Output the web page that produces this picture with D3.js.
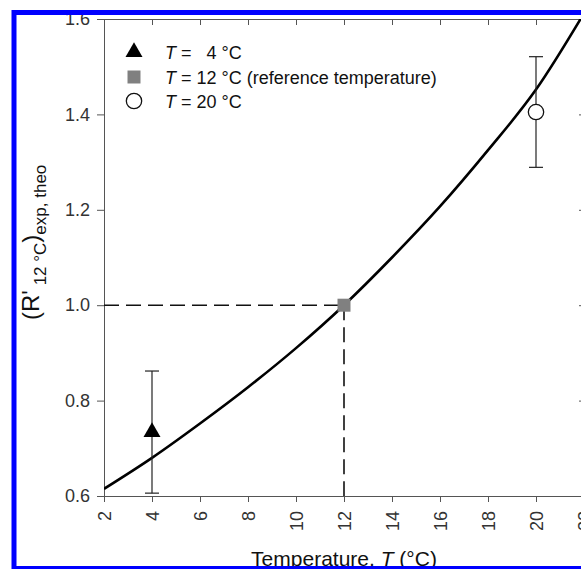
<!DOCTYPE html>
<html lang="en">
<head>
  <meta charset="UTF-8">
  <title>Relative rate vs temperature</title>
  <script src="https://d3js.org/d3.v7.min.js"></script>
  <style>
    body {
      margin: 0;
      background: #fff;
      font-family: Arial, "Liberation Sans", sans-serif;
    }
    svg { display: block; }
    .axis path, .axis line { stroke: #555; }
    .axis text { fill: #333; font-size: 18px; font-family: Arial, "Liberation Sans", sans-serif; }
  </style>
</head>
<body>
  <svg id="chart"></svg>

  <script>
    // Chart data
    const tempTicks = [2, 4, 6, 8, 10, 12, 14, 16, 18, 20, 22];
    const ratioTicks = [0.6, 0.8, 1.0, 1.2, 1.4, 1.6];

    // theoretical curve
    const curveTemp = [2, 4, 6, 8, 10, 12, 14, 16, 18, 20, 22];
    const curveRatio = [0.615, 0.68, 0.752, 0.828, 0.91, 1.0, 1.1, 1.207, 1.325, 1.452, 1.612];

    // measured points
    const pointTemp = [4, 12, 20];
    const pointRatio = [0.734, 1.0, 1.405];
    const pointErr = [0.128, 0, 0.116];
    const pointSymbol = ["triangle", "square", "circle"];

    const legendValues = ["=   4 °C", "= 12 °C (reference temperature)", "= 20 °C"];

    const W = 581, H = 569;
    const margin = {top: 19, right: -3, bottom: 73, left: 104};
    const width = W - margin.left - margin.right;
    const height = H - margin.top - margin.bottom;

    const svg = d3.select("#chart").attr("width", W).attr("height", H);

    const x = d3.scaleLinear().domain([2, 22]).range([0, width]);
    const y = d3.scaleLinear().domain([0.6, 1.6]).range([height, 0]);

    const g = svg.append("g").attr("transform", `translate(${margin.left},${margin.top})`);

    g.append("defs").append("clipPath").attr("id", "plot-clip")
      .append("rect").attr("width", width).attr("height", height);

    // axes
    const xAxis = g.append("g").attr("class", "axis")
      .attr("transform", `translate(0,${height})`)
      .call(d3.axisBottom(x).tickValues(tempTicks).tickSize(6).tickSizeOuter(0).tickFormat(d3.format("d")));
    xAxis.selectAll("text")
      .attr("transform", "rotate(-90)")
      .attr("x", -15)
      .attr("y", 0)
      .attr("dy", "0.36em")
      .style("text-anchor", "end");

    g.append("g").attr("class", "axis")
      .call(d3.axisLeft(y).tickValues(ratioTicks).tickSize(7).tickPadding(7).tickSizeOuter(0).tickFormat(d3.format(".1f")));

    g.append("g").attr("class", "axis")
      .call(d3.axisTop(x).tickValues(tempTicks).tickSize(-6).tickSizeOuter(0).tickFormat(""));

    g.append("g").attr("class", "axis")
      .attr("transform", `translate(${width},0)`)
      .call(d3.axisRight(y).tickValues(ratioTicks).tickSize(-5).tickSizeOuter(0).tickFormat(""));

    // dashed reference lines at T = 12 °C
    const ref = 1;
    g.append("line")
      .attr("x1", x(2)).attr("x2", x(pointTemp[ref]))
      .attr("y1", y(pointRatio[ref])).attr("y2", y(pointRatio[ref]))
      .attr("stroke", "#111").attr("stroke-width", 1.6).attr("stroke-dasharray", "15,7");
    g.append("line")
      .attr("x1", x(pointTemp[ref])).attr("x2", x(pointTemp[ref]))
      .attr("y1", y(pointRatio[ref])).attr("y2", y(0.6))
      .attr("stroke", "#111").attr("stroke-width", 1.6).attr("stroke-dasharray", "15,7");

    // theoretical curve
    const line = d3.line()
      .x((d, i) => x(curveTemp[i]))
      .y(d => y(d))
      .curve(d3.curveMonotoneX);
    g.append("path")
      .datum(curveRatio)
      .attr("clip-path", "url(#plot-clip)")
      .attr("fill", "none")
      .attr("stroke", "#000")
      .attr("stroke-width", 2.6)
      .attr("d", line);

    // error bars
    const capW = 7;
    pointTemp.forEach((t, i) => {
      if (!pointErr[i]) return;
      const cx = x(t);
      const y0 = y(pointRatio[i] - pointErr[i]);
      const y1 = y(pointRatio[i] + pointErr[i]);
      const eb = g.append("g").attr("stroke", "#222").attr("stroke-width", 1.2);
      eb.append("line").attr("x1", cx).attr("x2", cx).attr("y1", y0).attr("y2", y1);
      eb.append("line").attr("x1", cx - capW).attr("x2", cx + capW).attr("y1", y0).attr("y2", y0);
      eb.append("line").attr("x1", cx - capW).attr("x2", cx + capW).attr("y1", y1).attr("y2", y1);
    });

    // markers
    const symbolOf = {
      triangle: d3.symbol().type(d3.symbolTriangle).size(125),
      square: d3.symbol().type(d3.symbolSquare).size(169),
      circle: d3.symbol().type(d3.symbolCircle).size(185)
    };
    const styleOf = {
      triangle: {fill: "#000", stroke: "none"},
      square: {fill: "#808080", stroke: "none"},
      circle: {fill: "#fff", stroke: "#111"}
    };
    function drawMarker(sel, kind) {
      sel.attr("d", symbolOf[kind]())
        .attr("fill", styleOf[kind].fill)
        .attr("stroke", styleOf[kind].stroke)
        .attr("stroke-width", 1.3);
    }
    pointTemp.forEach((t, i) => {
      g.append("path")
        .attr("transform", `translate(${x(t)},${y(pointRatio[i])})`)
        .call(drawMarker, pointSymbol[i]);
    });

    // legend
    const legend = svg.append("g");
    const legendY = [52, 77, 101];
    pointSymbol.forEach((kind, i) => {
      legend.append("path")
        .attr("transform", `translate(134,${legendY[i]})`)
        .call(drawMarker, kind);
      const t = legend.append("text")
        .attr("x", 165).attr("y", legendY[i] + 6.5)
        .attr("font-size", 18)
        .attr("fill", "#111")
        .style("white-space", "pre");
      t.append("tspan").attr("font-style", "italic").text("T");
      t.append("tspan").text(" " + legendValues[i]);
    });

    // axis titles
    const xt = svg.append("text")
      .attr("x", margin.left + x(12)).attr("y", 566)
      .attr("text-anchor", "middle")
      .attr("font-size", 21)
      .attr("fill", "#111");
    xt.append("tspan").text("Temperature, ");
    xt.append("tspan").attr("font-style", "italic").text("T");
    xt.append("tspan").text(" (°C)");

    const yt = svg.append("text")
      .attr("transform", "translate(39,320) rotate(-90)")
      .attr("fill", "#111")
      .style("white-space", "pre");
    yt.append("tspan").attr("font-size", 24).text("(R'");
    yt.append("tspan").attr("font-size", 17).attr("dy", 7).text(" 12 °C");
    yt.append("tspan").attr("font-size", 24).attr("dy", -7).text(")");
    yt.append("tspan").attr("font-size", 17).attr("dy", 7).text("exp, theo");

    // blue frame on top
    svg.append("rect")
      .attr("x", 14).attr("y", 12.5)
      .attr("width", 620).attr("height", 556)
      .attr("fill", "none")
      .attr("stroke", "#0000ff")
      .attr("stroke-width", 5);
  </script>
</body>
</html>
